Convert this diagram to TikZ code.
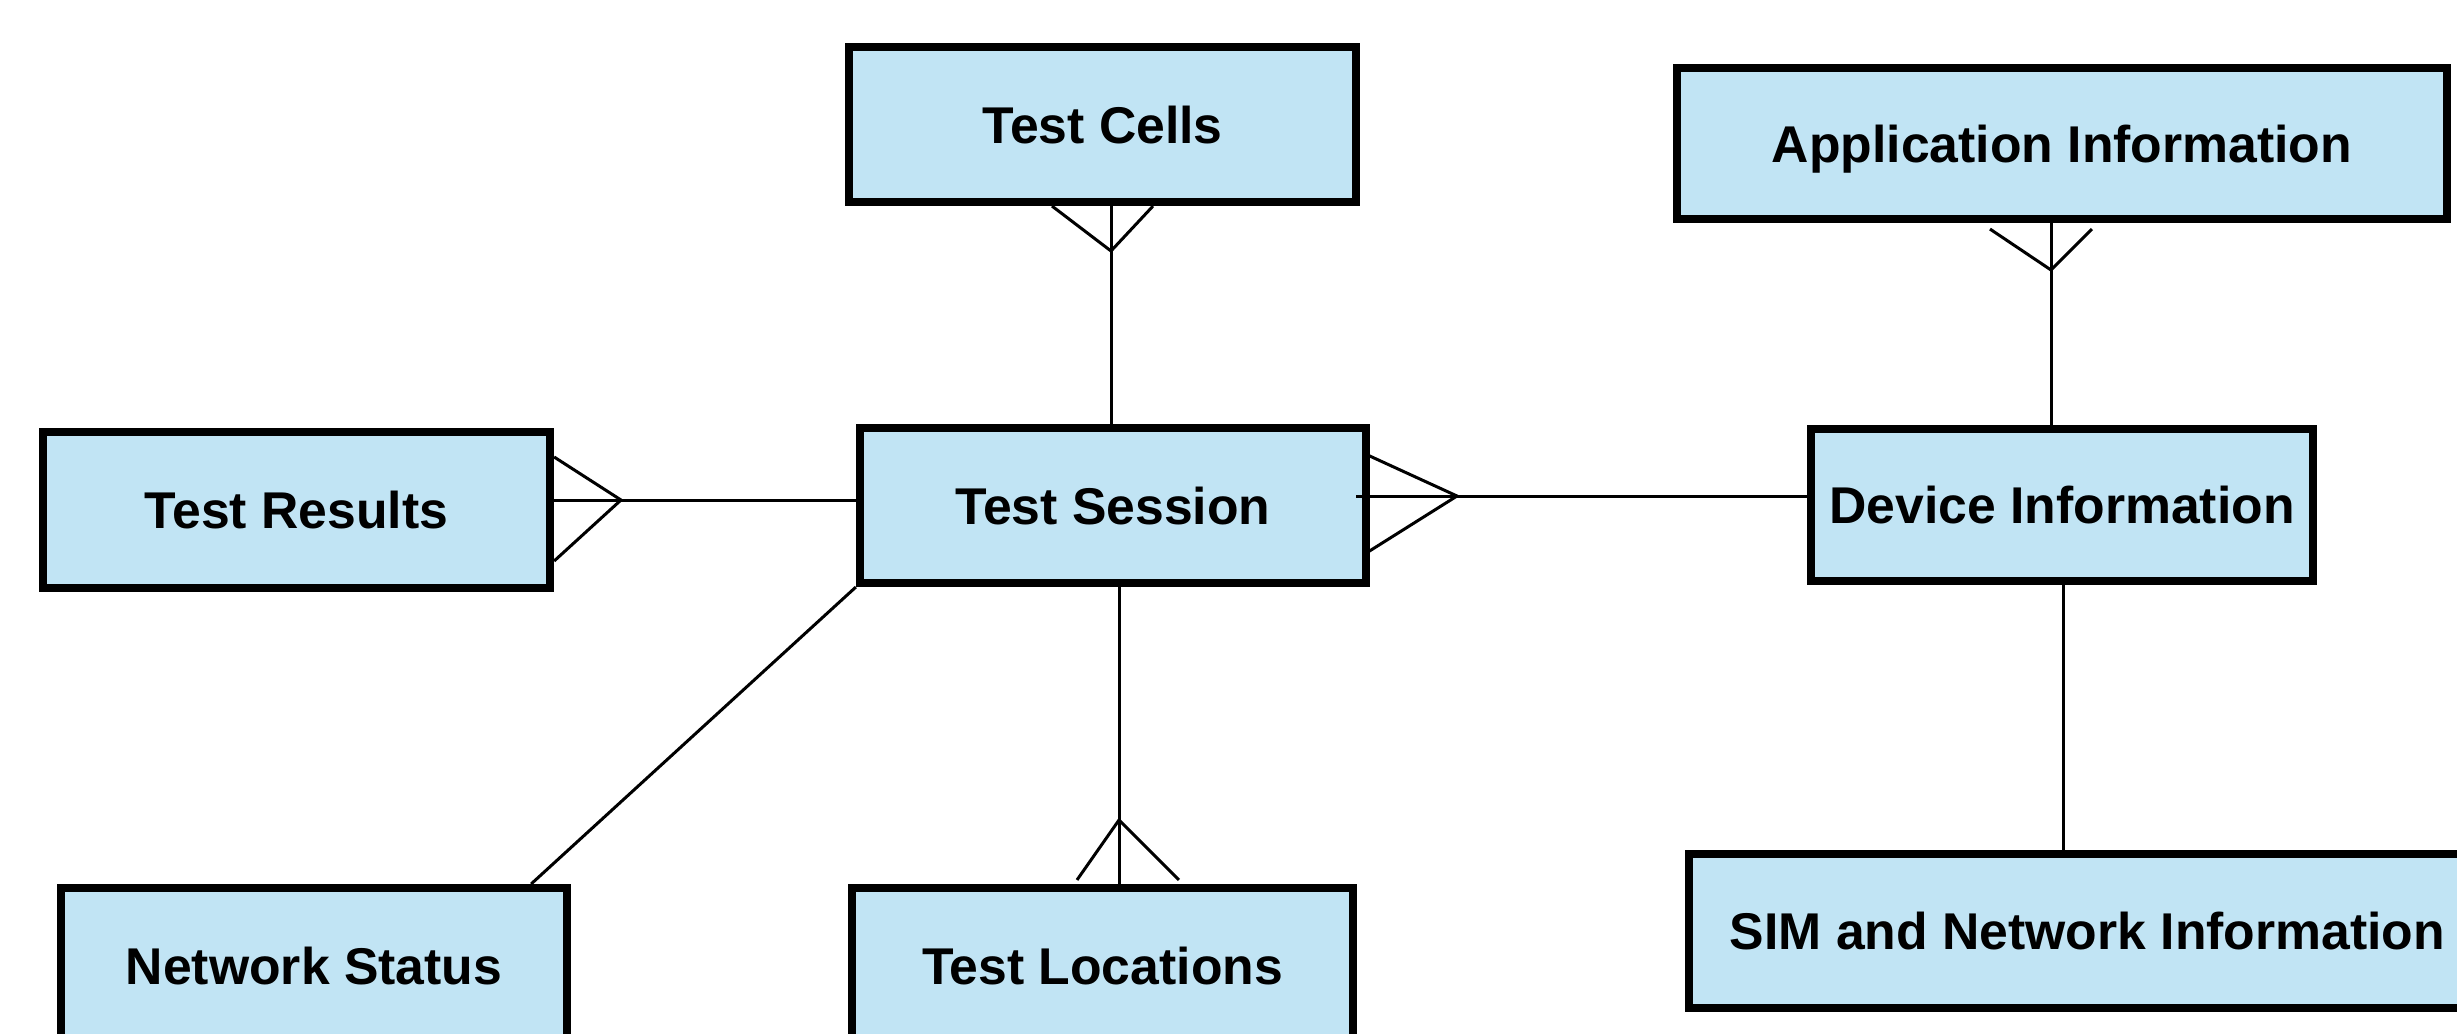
\documentclass[tikz,border=0pt]{standalone}
\usepackage{fontspec}
\setmainfont{Liberation Sans}
\usetikzlibrary{calc}
\definecolor{boxfill}{RGB}{193,228,244}
\begin{document}
\begin{tikzpicture}[x=0.01cm,y=-0.01cm,
  entity/.style={draw=black, line width=0.085cm, fill=boxfill, rectangle, inner sep=0pt,
    text height=0.37cm, text depth=0pt, font=\fontsize{14.7pt}{17pt}\selectfont\bfseries},
  conn/.style={draw=black, line width=0.03cm}]
\useasboundingbox (0,0) rectangle (2457,1033);
\clip (0,0) rectangle (2457,1033);
\fill[white] (0,0) rectangle (2457,1033);

\node[entity, minimum width=5.065cm, minimum height=1.545cm] (tc) at (1102.5,124.5) {Test Cells};
\node[entity, minimum width=7.695cm, minimum height=1.505cm] (ai) at (2062,143.5) {Application Information};
\node[entity, minimum width=5.065cm, minimum height=1.555cm] (tr) at (296.5,510) {Test Results};
\node[entity, minimum width=5.055cm, minimum height=1.545cm] (ts) at (1113,505.5) {Test Session};
\node[entity, minimum width=5.015cm, minimum height=1.515cm] (di) at (2062,505) {Device Information};
\node[entity, minimum width=5.055cm, minimum height=1.555cm] (ns) at (314,966) {Network Status};
\node[entity, minimum width=5.005cm, minimum height=1.555cm] (tl) at (1102.5,966) {Test Locations};
\node[entity, minimum width=7.965cm, minimum height=1.535cm] (sim) at (2087.5,931) {SIM and Network Information};

% Test Results -- Test Session
\coordinate (c1) at (621,500);
\draw[conn] (c1 -| tr.east) -- (c1) -- (c1 -| ts.west);
\draw[conn] ($(c1 -| tr.east)+(0,-43)$) -- (c1) -- ($(c1 -| tr.east)+(0,61)$);

% Test Session -- Device Information
\coordinate (c2) at (1457,496);
\draw[conn] ($(c2 -| ts.east)+(-14,0)$) -- (c2) -- (c2 -| di.west);
\draw[conn] ($(c2 -| ts.east)+(-7,-43)$) -- (c2) -- ($(c2 -| ts.east)+(-7,59)$);

% Test Cells -- Test Session
\coordinate (c3) at (1111,251);
\draw[conn] (c3 |- tc.south) -- (c3 |- ts.north);
\draw[conn] ($(c3 |- tc.south)+(-59,0)$) -- (c3) -- ($(c3 |- tc.south)+(42,0)$);

% Application Information -- Device Information
\coordinate (c4) at (2051,270);
\draw[conn] (c4 |- ai.south) -- (c4 |- di.north);
\draw[conn] ($(c4 |- ai.south)+(-61,6)$) -- (c4) -- ($(c4 |- ai.south)+(41,6)$);

% Device Information -- SIM and Network Information
\coordinate (c5) at (2063,700);
\draw[conn] (c5 |- di.south) -- (c5 |- sim.north);

% Test Session -- Test Locations
\coordinate (c6) at (1119,820);
\draw[conn] (c6 |- ts.south) -- (c6 |- tl.north);
\draw[conn] ($(c6 |- tl.north)+(-42,-4)$) -- (c6) -- ($(c6 |- tl.north)+(60,-4)$);

% Test Session -- Network Status
\coordinate (c7) at ($(ns.north east)+(-40,0)$);
\draw[conn] (ts.south west) -- (c7);
\end{tikzpicture}
\end{document}
